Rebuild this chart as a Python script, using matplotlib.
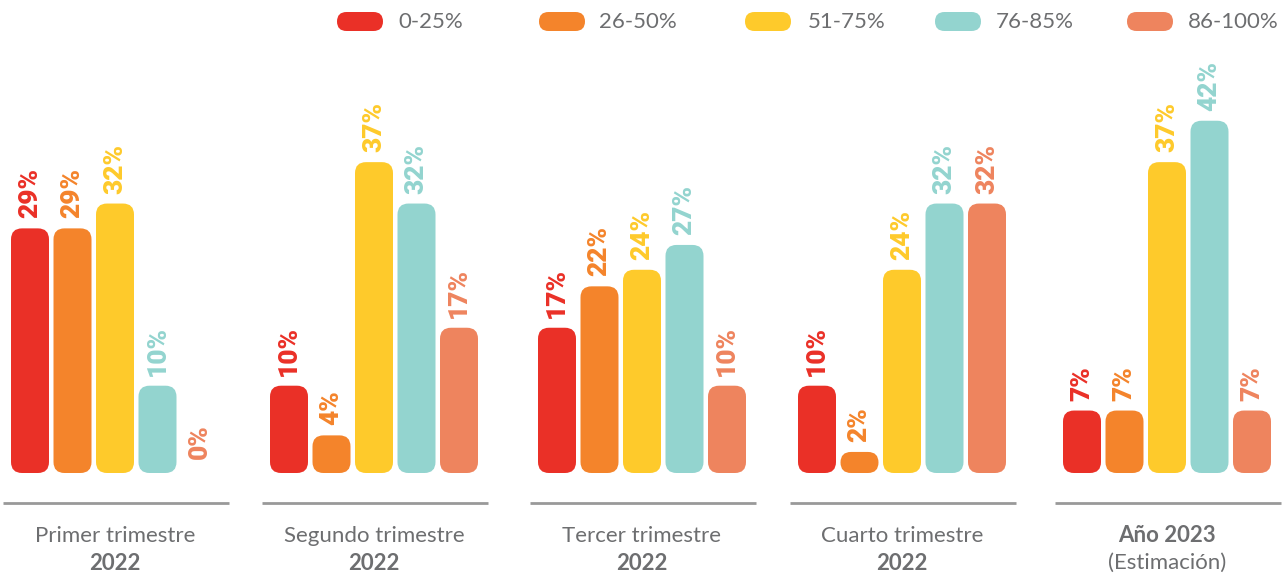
import matplotlib.pyplot as plt
from matplotlib.patches import FancyBboxPatch

plt.rcParams['font.family'] = ['Lato', 'DejaVu Sans']

ranges = ['0-25%', '26-50%', '51-75%', '76-85%', '86-100%']
colors = ['#EA3027', '#F4842B', '#FECA2B', '#93D4CF', '#EE845E']
periods = ['Primer trimestre', 'Segundo trimestre', 'Tercer trimestre', 'Cuarto trimestre', 'Año 2023']
years = ['2022', '2022', '2022', '2022', '(Estimación)']

primer = [29, 29, 32, 10, 0]
segundo = [10, 4, 37, 32, 17]
tercer = [17, 22, 24, 27, 10]
cuarto = [10, 2, 24, 32, 32]
anio2023 = [7, 7, 37, 42, 7]
values = [primer, segundo, tercer, cuarto, anio2023]

W, H = 1288, 574
fig = plt.figure(figsize=(W / 100, H / 100), dpi=100)
ax = fig.add_axes([0, 0, 1, 1])
ax.set_xlim(0, W)
ax.set_ylim(0, H)
ax.axis('off')

def py(p):
    # pixel row (from top) to data y
    return H - p

base = py(473)
scale = 8.28
bar_w = 38
step = 42.5
centers = [115, 374, 642, 902, 1167]
gray = '#6d6e70'

for g, vals in enumerate(values):
    c = centers[g]
    for j, v in enumerate(vals):
        x = c + (j - 2) * step - bar_w / 2
        h = v * scale + 4.5 if v > 0 else 0
        if h > 0:
            r = min(11, h / 2)
            ax.add_patch(FancyBboxPatch((x, base), bar_w, h,
                                        boxstyle=f'round,pad=0,rounding_size={r}',
                                        fc=colors[j], ec='none'))
        gap = 10 if v > 0 else 14
        ax.text(x + bar_w / 2, base + h + gap, f'{v}%', rotation=90,
                ha='center', va='bottom', color=colors[j],
                fontsize=19, fontweight=900, family=['Roboto', 'DejaVu Sans'])
    ax.plot([c + 1.5 - 113, c + 1.5 + 113], [py(503), py(503)], color='#999999', lw=2,
            solid_capstyle='butt')
    last = g == len(values) - 1
    ax.text(c, py(536), periods[g], ha='center', va='center', color=gray,
            fontsize=16, fontweight='bold' if last else 'normal')
    ax.text(c, py(563), years[g], ha='center', va='center', color=gray,
            fontsize=16, fontweight='normal' if last else 'bold')

# legend
pill_x = [337, 539, 745, 935, 1127]
text_x = [398, 599, 808, 996, 1188]
for k, lab in enumerate(ranges):
    ax.add_patch(FancyBboxPatch((pill_x[k], py(31)), 46, 19,
                                boxstyle='round,pad=0,rounding_size=9.5',
                                fc=colors[k], ec='none'))
    ax.text(text_x[k], py(22), lab, ha='left', va='center', color=gray,
            fontsize=16)

fig.savefig('out.png', dpi=100)
